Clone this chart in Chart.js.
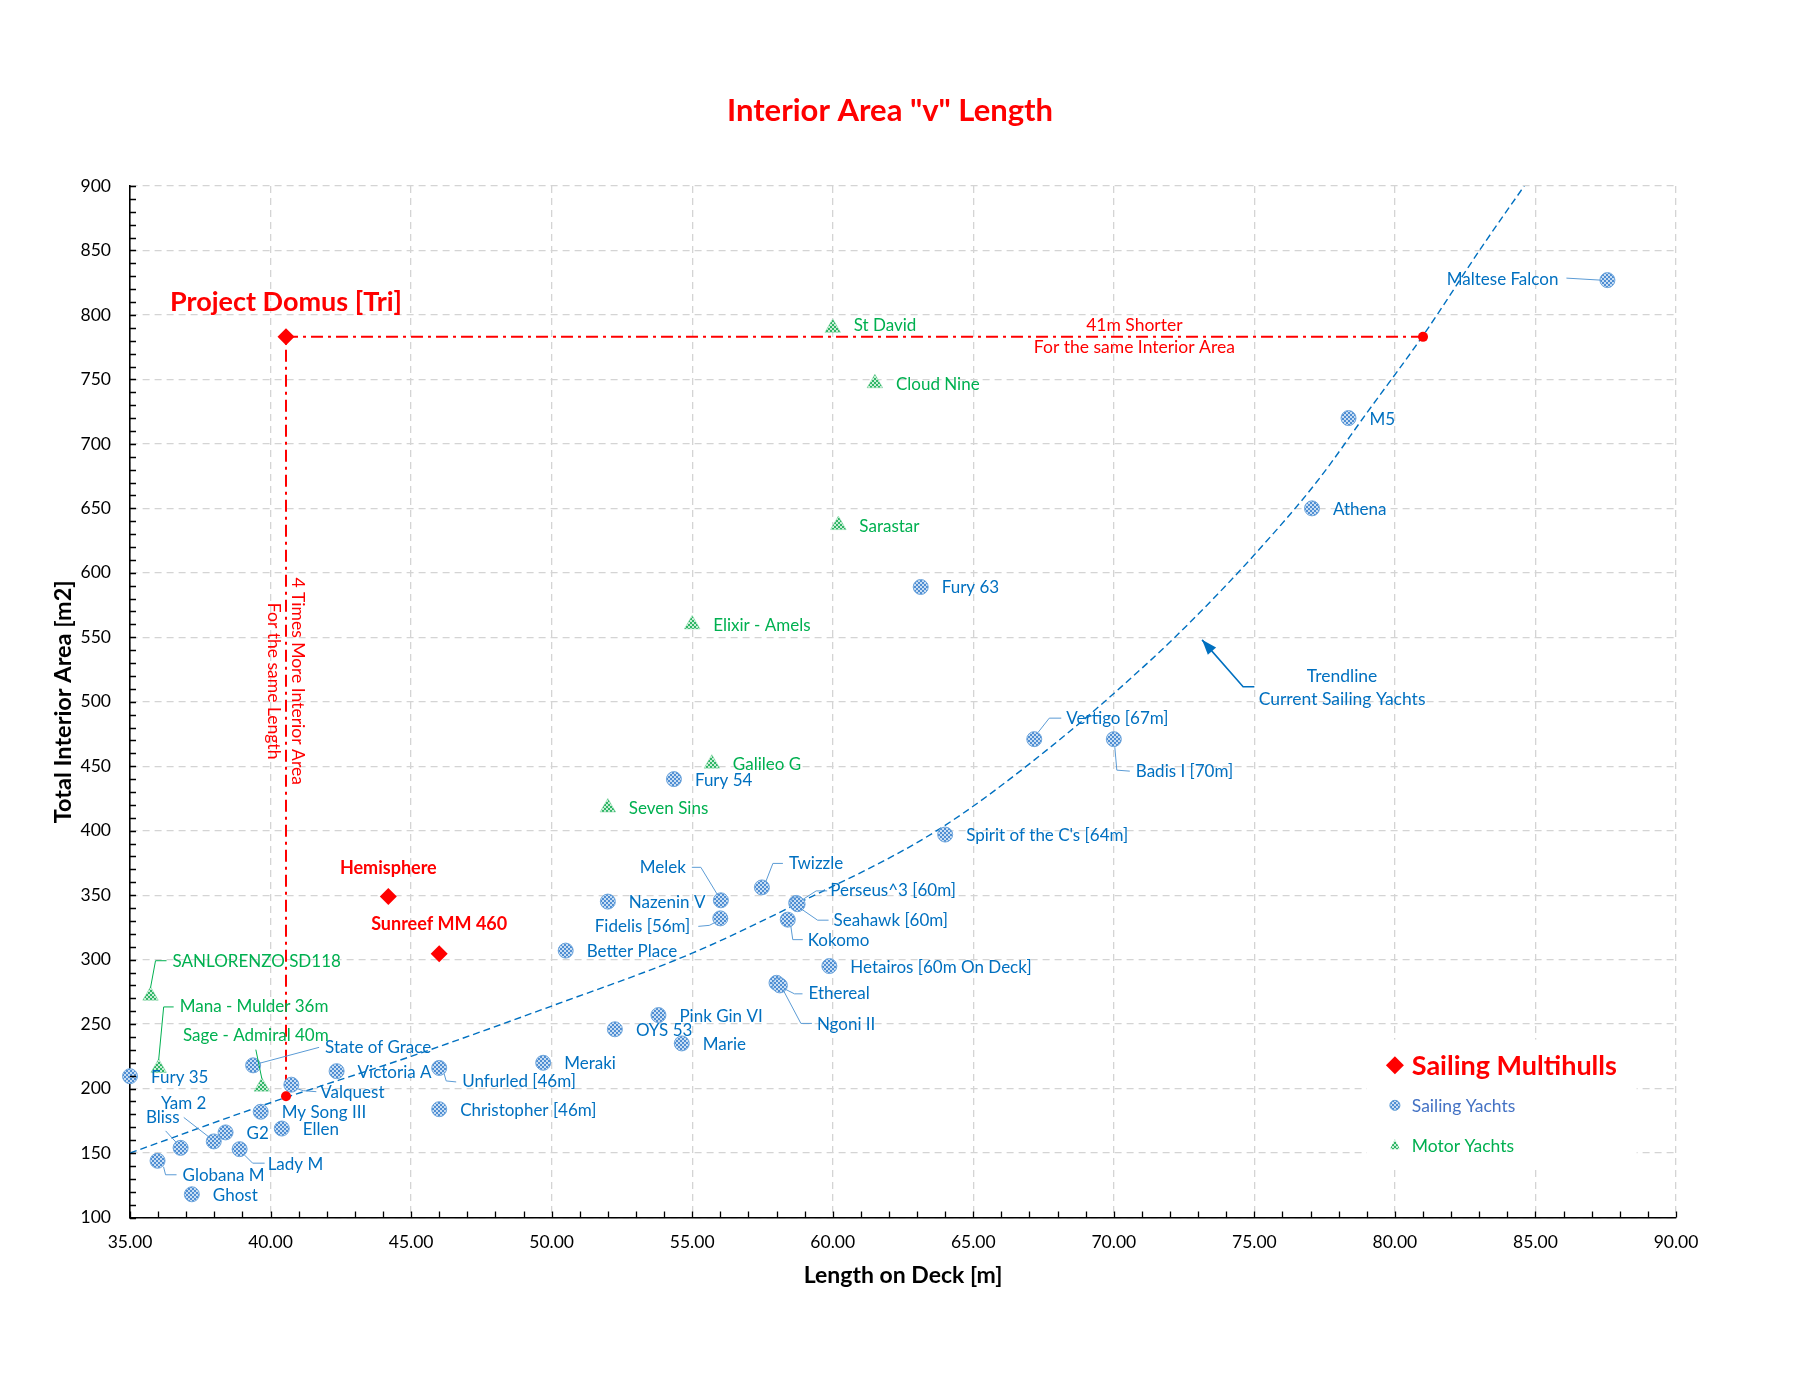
<!DOCTYPE html>
<html>
<head>
<meta charset="utf-8">
<script src="https://cdn.jsdelivr.net/npm/chart.js@4/dist/chart.umd.min.js"></script>
<style>
  html, body { margin: 0; padding: 0; background: #fff; }
</style>
</head>
<body>
<canvas id="chart" width="1800" height="1391"></canvas>
<script>
// Data
const sailingNames = ['Maltese Falcon', 'M5', 'Athena', 'Fury 63', 'Vertigo [67m]', 'Badis I [70m]',
  "Spirit of the C's [64m]", 'Fury 54', 'Twizzle', 'Melek', 'Nazenin V', 'Fidelis [56m]',
  'Perseus^3 [60m]', 'Seahawk [60m]', 'Kokomo', 'Better Place', 'Hetairos [60m On Deck]', 'Ethereal',
  'Ngoni II', 'Pink Gin VI', 'OYS 53', 'Marie', 'Meraki', 'Unfurled [46m]', 'Christopher [46m]',
  'Victoria A', 'State of Grace', 'Valquest', 'My Song III', 'Ellen', 'G2', 'Yam 2', 'Lady M',
  'Bliss', 'Globana M', 'Ghost', 'Fury 35'];
const sailingLength = [87.56, 78.35, 77.05, 63.13, 67.17, 70.0, 64.0, 54.35, 57.48, 56.02, 52.0, 56.0,
  58.7, 58.75, 58.4, 50.5, 59.88, 58.0, 58.12, 53.8, 52.25, 54.63, 49.7, 46.0, 46.0,
  42.35, 39.38, 40.74, 39.65, 40.4, 38.4, 37.98, 38.9, 36.8, 35.98, 37.2, 35.0];
const sailingArea = [827, 720, 650, 589, 471, 471, 397, 440, 356, 346, 345, 332,
  344, 343, 331, 307, 295, 282, 280, 257, 246, 235, 220, 216, 184,
  213.5, 218, 203, 182, 169, 166, 159, 153, 154, 144, 118, 209.6];

const motorNames = ['St David', 'Cloud Nine', 'Sarastar', 'Elixir - Amels', 'Galileo G', 'Seven Sins',
  'SANLORENZO SD118', 'Mana - Mulder 36m', 'Sage - Admiral 40m'];
const motorLength = [60.0, 61.5, 60.2, 55.0, 55.7, 52.0, 35.73, 36.02, 39.69];
const motorArea = [790, 747, 637, 560, 452, 418, 272, 216, 201.5];

const multiNames = ['Project Domus [Tri]', 'Hemisphere', 'Sunreef MM 460'];
const multiLength = [40.55, 44.19, 46.0];
const multiArea = [783, 349, 304.5];

// trendline of current sailing yachts
const trendLength = [35, 40, 45, 50, 55, 58.7, 63.7, 67.7, 71.3, 73.05, 75, 77.2, 79, 81, 83.1, 84.6];
const trendArea = [150, 189, 225, 264, 305, 343, 400, 464, 532, 569, 614, 670, 724, 784, 853, 900];

// comparison guide: Domus -> same area on trend, Domus -> same length on trend
const guideLength = [81.0, 40.55, 40.55];
const guideArea = [783, 783, 194];
const markLength = [81.0, 40.55];
const markArea = [783, 194];

const xTicks = { min: 35, max: 90, step: 5, minor: 1 };
const yTicks = { min: 100, max: 900, step: 50, minor: 10 };

// Label placement (pixel offsets from the marker)
const labelLayout = {
  'Maltese Falcon': { dx: -49, dy: -1, align: 'right', leader: [[-7, 0], [-41, -2]] },
  'Vertigo [67m]': { dx: 32, dy: -21, leader: [[4, -7], [15, -21], [27, -21]] },
  'Badis I [70m]': { dx: 22, dy: 32, leader: [[1, 8], [3, 31], [16, 32]] },
  'Twizzle': { dx: 27, dy: -24, leader: [[4, -6], [11, -24], [21, -24]] },
  'Melek': { dx: -35, dy: -33, align: 'right', leader: [[-3, -5], [-20, -33], [-29, -33]] },
  'Fidelis [56m]': { dx: -30, dy: 8, align: 'right', leader: [[-3, 3], [-11, 7], [-22, 8]] },
  'Perseus^3 [60m]': { dx: 34, dy: -12, leader: [[6, -3], [20, -12], [31, -12]] },
  'Seahawk [60m]': { dx: 36, dy: 16, leader: [[4, 5], [20, 16], [31, 16]] },
  'Kokomo': { dx: 20, dy: 21, leader: [[3, 6], [5, 20], [15, 20]] },
  'Ethereal': { dx: 32, dy: 11, leader: [[8, 6], [18, 11], [26, 11]] },
  'Ngoni II': { dx: 37, dy: 39, leader: [[3, 4], [21, 38], [32, 38]] },
  'Unfurled [46m]': { dx: 23, dy: 14, leader: [[5, 6], [7, 13], [17, 14]] },
  'State of Grace': { dx: 72, dy: -18, leader: [[6, -2], [66, -18]] },
  'Valquest': { dx: 29, dy: 8, leader: [[6, 4], [12, 6], [25, 7]] },
  'Yam 2': { dx: -30, dy: -38, align: 'center', leader: [[-3, -3], [-30, -24]] },
  'Bliss': { dx: -1, dy: -30, align: 'right', leader: [[-4, -5], [-15, -17]] },
  'Lady M': { dx: 28, dy: 15, leader: [[5, 6], [13, 14], [25, 14]] },
  'Globana M': { dx: 25, dy: 15, leader: [[6, 6], [8, 14], [19, 14]] },
  'St David': { dx: 21, dy: -2 },
  'SANLORENZO SD118': { dx: 22, dy: -34, leader: [[0, -8], [5, -35], [16, -35]] },
  'Mana - Mulder 36m': { dx: 21, dy: -61, leader: [[0, -8], [5, -61], [15, -61]] },
  'Sage - Admiral 40m': { dx: -6, dy: -51, align: 'center', leader: [[0, -8], [-6, -37]] },
  'Project Domus [Tri]': { dx: 0, dy: -35, align: 'center' },
  'Hemisphere': { dx: 0, dy: -28, align: 'center' },
  'Sunreef MM 460': { dx: 0, dy: -30, align: 'center' }
};

const BLUE = '#0070C0';
const GREEN = '#00B050';
const RED = '#FF0000';

Chart.defaults.font.family = 'Lato, "Liberation Sans", sans-serif';

const canvas = document.getElementById('chart');
const ctx = canvas.getContext('2d');

function makePattern(dark, light) {
  const c = document.createElement('canvas');
  c.width = 4; c.height = 4;
  const g = c.getContext('2d');
  g.fillStyle = light; g.fillRect(0, 0, 4, 4);
  g.fillStyle = dark; g.fillRect(0, 0, 2, 2); g.fillRect(2, 2, 2, 2);
  return ctx.createPattern(c, 'repeat');
}
const bluePattern = makePattern('#4F8ED3', '#C9DEF3');
const greenPattern = makePattern('#2FB566', '#C9EFD6');

const toPoints = (xs, ys) => xs.map((x, i) => ({ x, y: ys[i] }));

// Point labels with leader lines
const labelPlugin = {
  id: 'pointLabels',
  afterDatasetsDraw(chart) {
    const c = chart.ctx;
    chart.data.datasets.forEach((ds, i) => {
      if (!ds.names) return;
      const meta = chart.getDatasetMeta(i);
      meta.data.forEach((pt, j) => {
        const name = ds.names[j];
        const lay = Object.assign({ dx: 21, dy: 1, align: 'left' }, labelLayout[name] || {});
        c.save();
        if (lay.leader) {
          c.strokeStyle = ds.leaderColor;
          c.lineWidth = 1;
          c.beginPath();
          lay.leader.forEach((p, k) => {
            if (k === 0) c.moveTo(pt.x + p[0], pt.y + p[1]);
            else c.lineTo(pt.x + p[0], pt.y + p[1]);
          });
          c.stroke();
        }
        c.font = (ds.labelFonts && ds.labelFonts[j]) || ds.labelFont;
        c.fillStyle = ds.labelColor;
        c.textAlign = lay.align;
        c.textBaseline = 'middle';
        c.fillText(name, pt.x + lay.dx, pt.y + lay.dy);
        c.restore();
      });
    });
  }
};

// Inner minor ticks on both axes
const minorTicks = {
  id: 'minorTicks',
  afterDraw(chart) {
    const c = chart.ctx;
    const xs = chart.scales.x, ys = chart.scales.y;
    const a = chart.chartArea;
    c.save();
    c.strokeStyle = '#000';
    c.lineWidth = 1.3;
    c.beginPath();
    for (let v = xTicks.min; v <= xTicks.max + 1e-9; v += xTicks.minor) {
      const px = Math.round(xs.getPixelForValue(v)) + 0.5;
      c.moveTo(px, a.bottom); c.lineTo(px, a.bottom - 6);
    }
    for (let v = yTicks.min; v <= yTicks.max + 1e-9; v += yTicks.minor) {
      const py = Math.round(ys.getPixelForValue(v)) + 0.5;
      c.moveTo(a.left, py); c.lineTo(a.left + 6, py);
    }
    c.stroke();
    c.restore();
  }
};

// Title, text notes, arrow and the legend box
const chartTitle = { text: 'Interior Area "v" Length', x: 890, y: 111, font: 'bold 31px Lato' };
const notes = [
  { text: '41m Shorter', x: 70.73, y: 792, color: RED },
  { text: 'For the same Interior Area', x: 70.73, y: 774.5, color: RED },
  { text: 'Trendline', x: 78.12, y: 519.6, color: BLUE },
  { text: 'Current Sailing Yachts', x: 78.12, y: 501.8, color: BLUE },
  { text: '4 Times More Interior Area', x: 40.95, y: 516, color: RED, rotate: true },
  { text: 'For the same Length', x: 40.1, y: 516, color: RED, rotate: true }
];
const arrowPath = [[75.0, 511.6], [74.6, 511.6], [73.14, 548]];
const legendItems = [
  { text: 'Sailing Multihulls', y: 218, color: RED, font: 'bold 27px Lato', marker: 'diamond' },
  { text: 'Sailing Yachts', y: 187, color: '#4472C4', font: '17.5px Lato', marker: 'circle' },
  { text: 'Motor Yachts', y: 156, color: GREEN, font: '17.5px Lato', marker: 'triangle' }
];
const legendBox = { x0: 79.0, x1: 88.6, y0: 140, y1: 238, markerX: 80.0, textX: 80.6 };

const notesPlugin = {
  id: 'notes',
  afterDatasetsDraw(chart) {
    const c = chart.ctx;
    const xs = chart.scales.x, ys = chart.scales.y;
    c.save();
    c.textAlign = 'center';
    c.textBaseline = 'middle';
    c.font = chartTitle.font;
    c.fillStyle = RED;
    c.fillText(chartTitle.text, chartTitle.x, chartTitle.y);

    c.font = '17.5px Lato';
    notes.forEach(n => {
      const px = xs.getPixelForValue(n.x), py = ys.getPixelForValue(n.y);
      c.fillStyle = n.color;
      if (n.rotate) {
        c.save();
        c.translate(px, py);
        c.rotate(Math.PI / 2);
        c.fillText(n.text, 0, 0);
        c.restore();
      } else {
        c.fillText(n.text, px, py);
      }
    });
    // arrow
    const pts = arrowPath.map(p => [xs.getPixelForValue(p[0]), ys.getPixelForValue(p[1])]);
    c.strokeStyle = BLUE;
    c.fillStyle = BLUE;
    c.lineWidth = 1.6;
    c.beginPath();
    pts.forEach((p, k) => k ? c.lineTo(p[0], p[1]) : c.moveTo(p[0], p[1]));
    c.stroke();
    const [px0, py0] = pts[pts.length - 2], [px1, py1] = pts[pts.length - 1];
    const ang = Math.atan2(py1 - py0, px1 - px0);
    c.beginPath();
    c.moveTo(px1, py1);
    c.lineTo(px1 - 16 * Math.cos(ang - 0.35), py1 - 16 * Math.sin(ang - 0.35));
    c.lineTo(px1 - 16 * Math.cos(ang + 0.35), py1 - 16 * Math.sin(ang + 0.35));
    c.closePath();
    c.fill();

    // legend
    const bx0 = xs.getPixelForValue(legendBox.x0), bx1 = xs.getPixelForValue(legendBox.x1);
    const by0 = ys.getPixelForValue(legendBox.y1), by1 = ys.getPixelForValue(legendBox.y0);
    c.fillStyle = '#fff';
    c.fillRect(bx0, by0, bx1 - bx0, by1 - by0);
    const mx = xs.getPixelForValue(legendBox.markerX), tx = xs.getPixelForValue(legendBox.textX);
    legendItems.forEach(it => {
      const py = ys.getPixelForValue(it.y);
      if (it.marker === 'diamond') {
        c.fillStyle = RED;
        c.beginPath();
        c.moveTo(mx, py - 9); c.lineTo(mx + 9, py); c.lineTo(mx, py + 9); c.lineTo(mx - 9, py);
        c.closePath(); c.fill();
      } else if (it.marker === 'circle') {
        c.fillStyle = bluePattern;
        c.strokeStyle = '#5B9BD5';
        c.lineWidth = 1;
        c.beginPath(); c.arc(mx, py, 5, 0, Math.PI * 2); c.fill(); c.stroke();
      } else {
        c.fillStyle = greenPattern;
        c.beginPath();
        c.moveTo(mx, py - 6); c.lineTo(mx + 5, py + 4); c.lineTo(mx - 5, py + 4);
        c.closePath(); c.fill();
      }
      c.fillStyle = it.color;
      c.font = it.font;
      c.textAlign = 'left';
      c.fillText(it.text, tx, py + 1);
    });
    c.restore();
  }
};

new Chart(ctx, {
  type: 'scatter',
  data: {
    datasets: [
      {
        label: 'Sailing Multihulls',
        data: toPoints(multiLength, multiArea),
        names: multiNames,
        labelColor: RED,
        labelFont: 'bold 18px Lato',
        labelFonts: ['bold 27px Lato', 'bold 18px Lato', 'bold 18px Lato'],
        pointStyle: 'rectRot',
        pointRadius: 8.5,
        backgroundColor: RED,
        borderColor: RED,
        borderWidth: 0,
        clip: false,
        order: 1
      },
      {
        label: 'Match points',
        data: toPoints(markLength, markArea),
        pointStyle: 'circle',
        pointRadius: 5,
        backgroundColor: RED,
        borderColor: RED,
        borderWidth: 0,
        clip: false,
        order: 2
      },
      {
        label: 'Sailing Yachts',
        data: toPoints(sailingLength, sailingArea),
        names: sailingNames,
        labelColor: BLUE,
        leaderColor: '#5B9BD5',
        labelFont: '17px Lato',
        pointStyle: 'circle',
        pointRadius: 7.5,
        backgroundColor: bluePattern,
        borderColor: '#6FA6DC',
        borderWidth: 1,
        clip: false,
        order: 3
      },
      {
        label: 'Motor Yachts',
        data: toPoints(motorLength, motorArea),
        names: motorNames,
        labelColor: GREEN,
        leaderColor: GREEN,
        labelFont: '17px Lato',
        pointStyle: 'triangle',
        pointRadius: 9,
        backgroundColor: greenPattern,
        borderColor: '#7ED3A0',
        borderWidth: 0.5,
        clip: false,
        order: 4
      },
      {
        type: 'line',
        label: 'Guide',
        data: toPoints(guideLength, guideArea),
        borderColor: RED,
        borderWidth: 2,
        borderDash: [12, 5, 3, 5],
        pointRadius: 0,
        fill: false,
        tension: 0,
        order: 5
      },
      {
        type: 'line',
        label: 'Trendline',
        data: toPoints(trendLength, trendArea),
        borderColor: BLUE,
        borderWidth: 1.4,
        borderDash: [7, 4],
        pointRadius: 0,
        fill: false,
        cubicInterpolationMode: 'monotone',
        order: 6
      }
    ]
  },
  options: {
    responsive: false,
    devicePixelRatio: 1,
    animation: false,
    layout: { padding: { left: 0, right: 124, top: 186, bottom: 0 } },
    plugins: {
      legend: { display: false },
      tooltip: { enabled: false },
      title: { display: false }
    },
    scales: {
      x: {
        type: 'linear',
        min: xTicks.min,
        max: xTicks.max,
        ticks: {
          stepSize: xTicks.step,
          color: '#000',
          font: { size: 17.5 },
          padding: 14,
          callback: v => Number(v).toFixed(2)
        },
        grid: { color: '#D4D4D4', lineWidth: 1.3, drawTicks: false },
        border: { display: true, color: '#000', width: 1.6, dash: [7, 5] },
        title: {
          display: true,
          text: 'Length on Deck [m]',
          color: '#000',
          font: { size: 23, weight: 'bold' },
          padding: { top: 102, bottom: 102 }
        },
        afterFit: s => { s.height = 173.5; }
      },
      y: {
        type: 'linear',
        min: yTicks.min,
        max: yTicks.max,
        ticks: {
          stepSize: yTicks.step,
          color: '#000',
          font: { size: 17.5 },
          padding: 19
        },
        grid: { color: '#D4D4D4', lineWidth: 1.3, drawTicks: false },
        border: { display: true, color: '#000', width: 1.6, dash: [7, 5] },
        title: {
          display: true,
          text: 'Total Interior Area [m2]',
          color: '#000',
          font: { size: 23.5, weight: 'bold' },
          padding: { top: 49, bottom: 49 }
        },
        afterFit: s => { s.width = 130; }
      }
    }
  },
  plugins: [labelPlugin, notesPlugin, minorTicks]
});
</script>
</body>
</html>
